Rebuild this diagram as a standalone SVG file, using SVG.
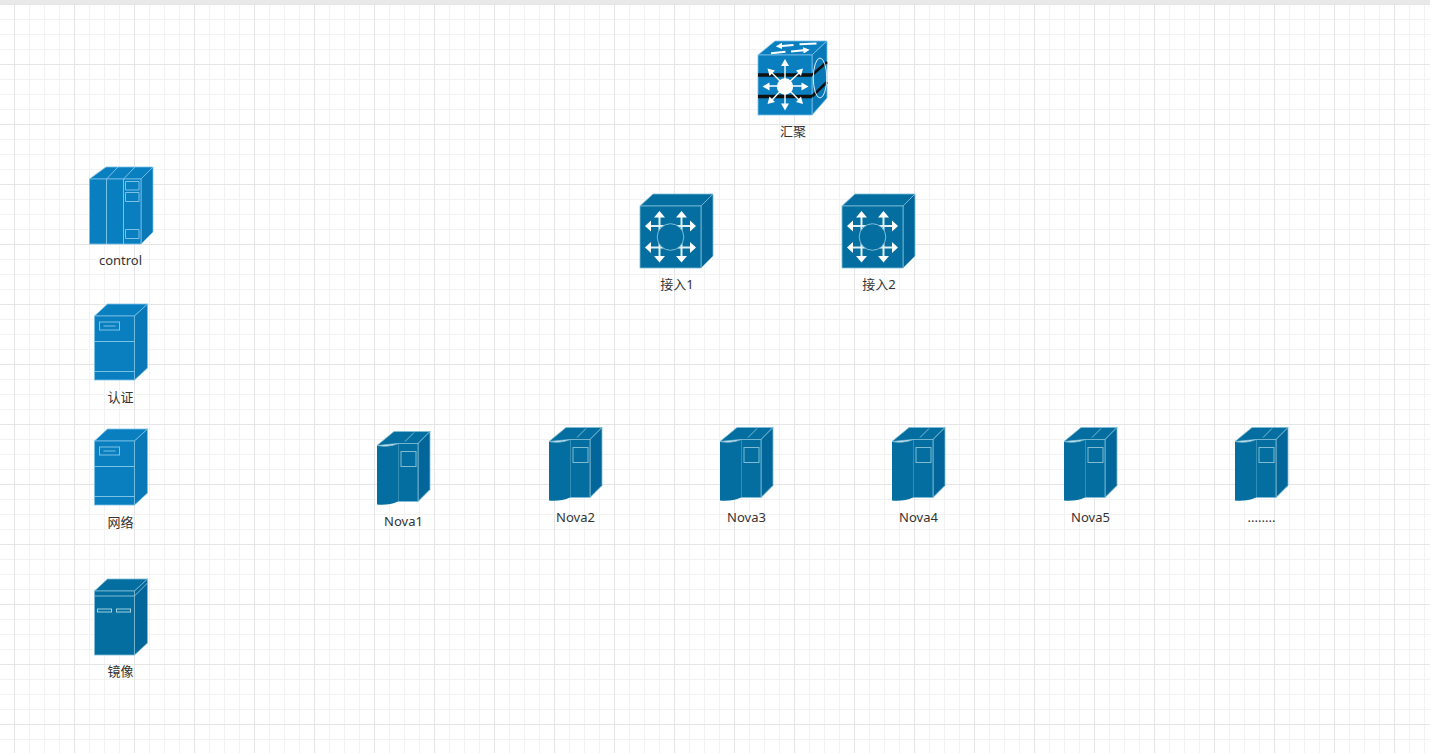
<svg xmlns="http://www.w3.org/2000/svg" width="1430" height="753" viewBox="0 0 1430 753">
<style>
text{font-family:"Noto Sans","Noto Sans CJK SC",sans-serif;font-size:13px;fill:#333;text-anchor:middle}
.s1{fill:#0a7fc0;stroke:#7cc1e6;stroke-width:.8}
.s1d{fill:#0878b6;stroke:#7cc1e6;stroke-width:.8}
.s2{fill:#036e9f;stroke:#7fbcd4;stroke-width:.8}
.s2d{fill:#02669a;stroke:#7fbcd4;stroke-width:.8}
.f2{fill:#036e9f}
.ln{fill:none;stroke:#7cc1e6;stroke-width:1}
.ln2{fill:none;stroke:#7fbcd4;stroke-width:1}
.wl{fill:none;stroke:#e2eff5;stroke-width:2}
.wh{fill:#fff;stroke:none}
</style>
<defs>
<pattern id="g" width="60" height="60" patternUnits="userSpaceOnUse" x="14" y="4">
<path d="M15.500 0V60M30.500 0V60M45.500 0V60M0 15.500H60M0 30.500H60M0 45.500H60" fill="none" stroke="#f2f2f2"/>
<path d="M.5 0V60M0 .5H60" fill="none" stroke="#e5e5e5"/>
</pattern>
<marker id="dbl" viewBox="0 0 6 6" refX="3" refY="3" markerWidth="3.200" markerHeight="3.200" orient="auto-start-reverse"><path d="M0 0L6 3L0 6Z" fill="#fff"/></marker>
<g id="nova">
<path class="s2" d="M0 14L17 0H53L41 12H21Z" stroke="none"/>
<path class="s2d" d="M41 12L53 0V58L41 70Z"/>
<rect class="s2" x="21" y="12" width="20" height="58"/>
<path class="f2" d="M0 14Q12 16 21 12V70Q12 74 0 73Z"/>
<path class="ln2" d="M0 14Q12 16 21 12M28 10L37 1"/>
<rect class="ln2" x="24" y="20" width="15" height="15"/>
</g>
<g id="aar">
<path class="wl" d="M19.500 23V38M11 32H30"/>
<path class="wh" d="M14 23.500L19.500 17L25 23.500ZM11 26.500V37.500L5 32Z"/>
</g>
<g id="acc">
<path class="s2" d="M0 12L13 0H73L61 12Z"/>
<path class="s2d" d="M61 12L73 0V62L61 74Z"/>
<rect class="s2" x="0" y="12" width="61" height="62"/>
<use href="#aar"/>
<use href="#aar" transform="matrix(-1 0 0 1 61 0)"/>
<use href="#aar" transform="matrix(1 0 0 -1 0 85.500)"/>
<use href="#aar" transform="matrix(-1 0 0 -1 61 85.500)"/>
<circle cx="30.500" cy="43" r="13.300" fill="#036e9f" stroke="#7fbcd4"/>
</g>
</defs>
<rect width="1430" height="753" fill="#fff"/>
<rect width="1430" height="753" fill="url(#g)"/>
<rect width="1430" height="4" fill="#e9e9ea"/>
<g id="connectors"></g>

<g id="node-huiju">
<path class="s1" d="M758 55L775 41H827L812 55Z"/>
<path class="s1d" d="M812 55L827 41V98L812 115Z"/>
<rect class="s1" x="758" y="55" width="54" height="60"/>
<path d="M758 75H812M758 96.500H812" stroke="#111" stroke-width="3.400" fill="none"/>
<path d="M812 75L827 62M812 96.500L827 82" stroke="#111" stroke-width="2.600" fill="none"/>
<ellipse cx="820" cy="78" rx="6.700" ry="20" fill="none" stroke="#d8edf7"/>
<path d="M779 46.200L793.500 45M799.500 44.300L816.500 43.400M771 53.300L785.500 51.800M791 51.500L806.500 50.100" stroke="#fff" stroke-width="2" marker-start="url(#dbl)" marker-end="url(#dbl)" fill="none"/>
<path fill="none" stroke="#fff" stroke-width="1.400" d="M785 86V66M785 86V104M785 86H769M785 86H802M785 86L772 73M785 86L799 73M785 86L772 100M785 86L799 100"/>
<path class="wh" d="M785 59L789 66H781ZM785 110.500L781 103.500H789ZM762.500 86.500L769.500 82.500V90.500ZM808.500 86.500L801.500 82.500V90.500ZM767.500 68.500L775 70.500L769.500 76ZM803 68.500L796 70.500L801 76ZM767.500 104L769.500 96.500L775 102ZM803 104L796 102L801 96.500Z"/>
<circle cx="785" cy="86.500" r="8.200" fill="#fff"/>
<text x="793" y="136">汇聚</text>
</g>

<g id="node-control">
<path class="s1" d="M89.500 179L106 167H153L141 179Z"/>
<path class="s1d" d="M141 179L153 167V232L141 244Z"/>
<rect class="s1" x="89.500" y="179" width="51.500" height="65"/>
<path class="ln" d="M106.500 179V244M123.500 179V244M106.500 179L118 167M123.500 179L135 167"/>
<path class="ln" d="M125.500 181.500H139V190H125.500ZM125.500 192.500H139V201.500H125.500ZM125.500 229.500H139V238.500H125.500Z"/>
<text x="120.500" y="265">control</text>
</g>

<g id="node-renzheng" transform="translate(94.500 304)">
<path d="M0 12L13 0H53L40 12Z" class="s1"/><path d="M40 12L53 0V64L40 76Z" class="s1d"/><rect x="0" y="12" width="40" height="64" class="s1"/>
<path class="ln" d="M0 37.500H40M0 67.500H40"/>
<rect class="ln" x="5" y="18" width="20" height="8"/><path class="ln" d="M9 22H21"/>
<text x="26" y="97.500">认证</text>
</g>
<g id="node-wangluo" transform="translate(94.500 429)">
<path d="M0 12L13 0H53L40 12Z" class="s1"/><path d="M40 12L53 0V64L40 76Z" class="s1d"/><rect x="0" y="12" width="40" height="64" class="s1"/>
<path class="ln" d="M0 37.500H40M0 67.500H40"/>
<rect class="ln" x="5" y="18" width="20" height="8"/><path class="ln" d="M9 22H21"/>
<text x="26" y="97.500">网络</text>
</g>
<g id="node-jingxiang" transform="translate(94.500 579)">
<path d="M0 12L13 0H53L40 12Z" class="s2"/><path d="M40 12L53 0V64L40 76Z" class="s2d"/><rect x="0" y="12" width="40" height="64" class="s2"/>
<path class="ln2" d="M0 17H40M40 17L53 4"/>
<rect x="3" y="30" width="14" height="3" fill="none" stroke="#a4d0e0"/><rect x="22" y="30" width="14" height="3" fill="none" stroke="#a4d0e0"/>
<text x="26" y="96.500">镜像</text>
</g>

<g id="node-jieru1" transform="translate(640 194)"><use href="#acc"/><text x="37" y="95">接入1</text></g>
<g id="node-jieru2" transform="translate(842 194)"><use href="#acc"/><text x="37" y="95">接入2</text></g>

<g id="node-nova1" transform="translate(377 431.500)"><use href="#nova"/><text x="26.500" y="94">Nova1</text></g>
<g id="node-nova2" transform="translate(549 427.500)"><use href="#nova"/><text x="26.500" y="94">Nova2</text></g>
<g id="node-nova3" transform="translate(720 427.500)"><use href="#nova"/><text x="26.500" y="94">Nova3</text></g>
<g id="node-nova4" transform="translate(892 427.500)"><use href="#nova"/><text x="26.500" y="94">Nova4</text></g>
<g id="node-nova5" transform="translate(1064 427.500)"><use href="#nova"/><text x="26.500" y="94">Nova5</text></g>
<g id="node-more" transform="translate(1235 427.500)"><use href="#nova"/><text x="26.500" y="94">........</text></g>
</svg>
